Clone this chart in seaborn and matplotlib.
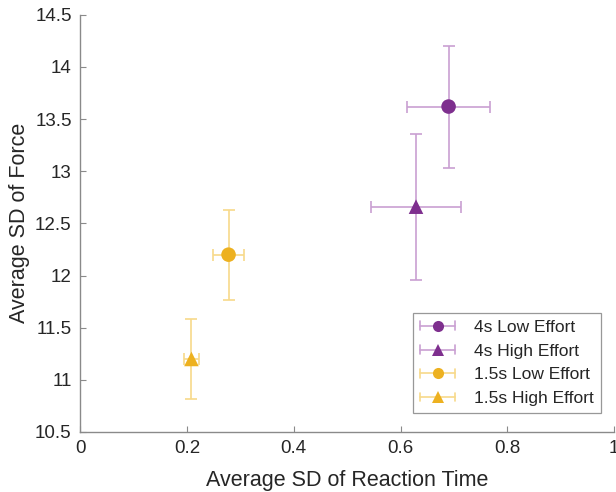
import matplotlib
matplotlib.use("Agg")
import matplotlib.pyplot as plt
import seaborn as sns
import pandas as pd
from matplotlib.lines import Line2D
from matplotlib.legend_handler import HandlerBase

groups = ["4s Low Effort", "4s High Effort", "1.5s Low Effort", "1.5s High Effort"]
rt_sd = [0.690, 0.629, 0.278, 0.2085]
force_sd = [13.62, 12.66, 12.20, 11.20]
rt_err = [0.077, 0.084, 0.029, 0.014]
force_err = [0.585, 0.70, 0.43, 0.38]

colors = {"4s Low Effort": "#7E2F8E", "4s High Effort": "#7E2F8E",
          "1.5s Low Effort": "#EDB120", "1.5s High Effort": "#EDB120"}
err_colors = {"4s Low Effort": "#C9A0D2", "4s High Effort": "#C9A0D2",
              "1.5s Low Effort": "#F7D98A", "1.5s High Effort": "#F7D98A"}
markers = {"4s Low Effort": "o", "4s High Effort": "^",
           "1.5s Low Effort": "o", "1.5s High Effort": "^"}

df = pd.DataFrame({"group": groups, "rt": rt_sd, "force": force_sd,
                   "xerr": rt_err, "yerr": force_err})

sns.set_theme(style="ticks")
plt.rcParams["font.family"] = ["Liberation Sans", "DejaVu Sans"]

fig = plt.figure(figsize=(6.16, 4.92), dpi=100)
ax = fig.add_axes([0.13, 0.122, 0.867, 0.848])

for _, r in df.iterrows():
    ax.errorbar(r["rt"], r["force"], xerr=r["xerr"], yerr=r["yerr"],
                fmt="none", ecolor=err_colors[r["group"]], elinewidth=1.2,
                capsize=4, capthick=1.2, zorder=2)

sns.scatterplot(data=df, x="rt", y="force", hue="group", style="group",
                palette=colors, markers=markers, s=110, edgecolor="none",
                ax=ax, legend=False, zorder=3)


class ErrHandle:
    def __init__(self, marker, color, ecolor):
        self.marker, self.color, self.ecolor = marker, color, ecolor


class HandlerErrMarker(HandlerBase):
    def create_artists(self, legend, orig_handle, xdescent, ydescent,
                       width, height, fontsize, trans):
        y = height / 2.0 - ydescent
        x0, x1 = -xdescent, width - xdescent
        cap = height * 0.35
        art = [
            Line2D([x0, x1], [y, y], color=orig_handle.ecolor, lw=1.2),
            Line2D([x0, x0], [y - cap, y + cap], color=orig_handle.ecolor, lw=1.2),
            Line2D([x1, x1], [y - cap, y + cap], color=orig_handle.ecolor, lw=1.2),
            Line2D([(x0 + x1) / 2], [y], marker=orig_handle.marker, ls="none",
                   color=orig_handle.color, markersize=8, markeredgewidth=0),
        ]
        for a in art:
            a.set_transform(trans)
        return art


leg_handles = [ErrHandle(markers[g], colors[g], err_colors[g]) for g in groups]
leg = ax.legend(leg_handles, groups, loc="lower right",
                bbox_to_anchor=(0.975, 0.045), fontsize=12.5, frameon=True,
                fancybox=False, edgecolor="#7f7f7f", handlelength=2.0,
                borderpad=0.4, labelspacing=0.5, handletextpad=1.1,
                borderaxespad=0,
                handler_map={ErrHandle: HandlerErrMarker()})
leg.get_frame().set_linewidth(0.9)

ax.set_xlim(0, 1)
ax.set_ylim(10.5, 14.5)
ax.set_xticks([0, 0.2, 0.4, 0.6, 0.8, 1])
ax.set_xticklabels(["0", "0.2", "0.4", "0.6", "0.8", "1"])
ax.set_yticks([10.5, 11, 11.5, 12, 12.5, 13, 13.5, 14, 14.5])
ax.set_yticklabels(["10.5", "11", "11.5", "12", "12.5", "13", "13.5", "14", "14.5"])
ax.set_xlabel("Average SD of Reaction Time", fontsize=15.5, color="#262626", labelpad=9)
ax.set_ylabel("Average SD of Force", fontsize=15.5, color="#262626", labelpad=4)
ax.tick_params(direction="in", length=4, width=0.8, colors="#8a8a8a",
               labelcolor="#262626", labelsize=13.5, pad=6)
for s in ["top", "right"]:
    ax.spines[s].set_visible(False)
for s in ["left", "bottom"]:
    ax.spines[s].set_color("#8a8a8a")
    ax.spines[s].set_linewidth(1.0)

fig.savefig("out.png", dpi=100)
